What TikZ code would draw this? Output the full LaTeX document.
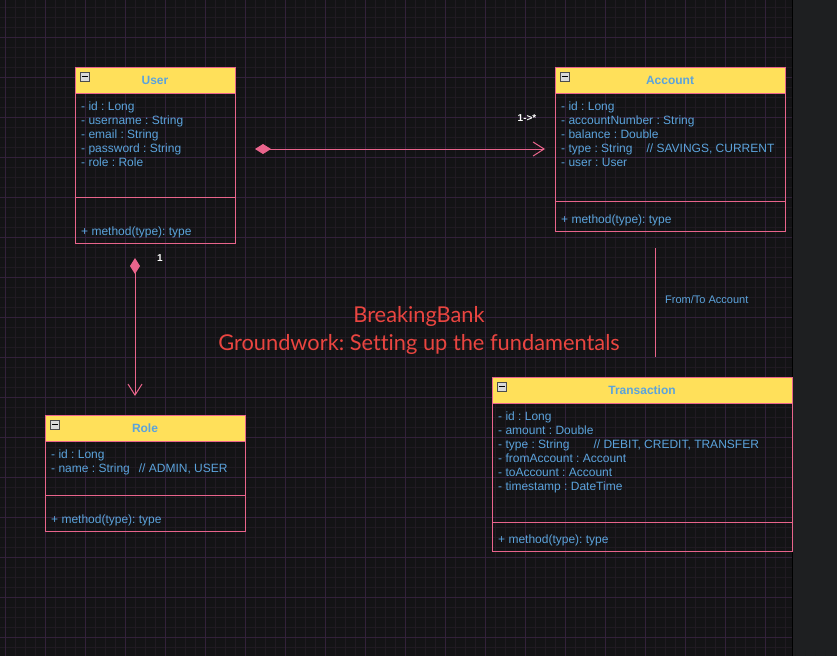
\documentclass[tikz,border=0pt]{standalone}
\usepackage{fontspec}
\setmainfont{Liberation Sans}
\newfontfamily\titlefont[Ligatures=NoCommon]{Lato}
\usepackage{tikz}
\usetikzlibrary{positioning,calc,arrows.meta}
\definecolor{bgdark}{HTML}{131315}
\definecolor{gridminor}{HTML}{201A22}
\definecolor{gridmajor}{HTML}{33213A}
\definecolor{sidebar}{HTML}{1E1F21}
\definecolor{umlpink}{HTML}{E9648C}
\definecolor{umlyellow}{HTML}{FFE05A}
\definecolor{umlblue}{HTML}{5BA3DC}
\definecolor{titlered}{HTML}{EA4540}
\frenchspacing

\begin{document}
\begin{tikzpicture}[x=1pt,y=-1pt,font=\fontsize{12}{14}\selectfont,
 hdr/.style={draw=umlpink,line width=1pt,outer sep=0pt,fill=umlyellow,minimum height=26pt,inner sep=0pt,text=umlblue,font=\fontsize{12}{14}\selectfont\bfseries},
 comp/.style={draw=umlpink,line width=1pt,outer sep=0pt,inner sep=0pt},
 attrs/.style={anchor=north west,inner sep=0pt,align=left,text=umlblue},
 meth/.style={anchor=base west,inner sep=0pt,text=umlblue},
 tog/.style={anchor=north west,draw=gray!60!black,fill=gray!30,minimum size=9pt,inner sep=0pt,line width=0.6pt,
  path picture={\draw[black,line width=1pt] ([xshift=1.5pt]path picture bounding box.west) -- ([xshift=-1.5pt]path picture bounding box.east);}},
 link/.style={draw=umlpink,line width=1pt},
 mult/.style={text=white,inner sep=0pt,font=\fontsize{10}{12}\selectfont\bfseries},
 lbl/.style={text=umlblue,inner sep=0pt,font=\fontsize{11}{13}\selectfont}]
\useasboundingbox (0,0) rectangle (837,656);
\fill[bgdark] (0,0) rectangle (837,656);
% grid
\foreach \x in {5,15,...,785} \draw[gridminor] (\x,0) -- (\x,656);
\foreach \y in {7,17,...,647} \draw[gridminor] (0,\y) -- (792,\y);
\foreach \x in {5,45,...,765} \draw[gridmajor] (\x,0) -- (\x,656);
\foreach \y in {37,77,...,637} \draw[gridmajor] (0,\y) -- (792,\y);
\fill[sidebar] (792,0) rectangle (837,656);
\draw[black,line width=1.5pt] (792.5,0) -- (792.5,656);

% User
\node[hdr,minimum width=160pt] (user) at (155,80) {User};
\node[comp,minimum width=160pt,minimum height=104pt,below=0pt of user] (userattr) {};
\node[comp,minimum width=160pt,minimum height=46pt,below=0pt of userattr] (usermeth) {};
\node[tog] (usertog) at ([shift={(5,5)}]user.north west) {};
\node[attrs] (userlist) at ([shift={(6,9)}]userattr.north west)
 {- id : Long\\- username : String\\- email : String\\- password : String\\- role : Role};
\node[meth] (userops) at ([shift={(6,-8)}]usermeth.south west) {+ method(type): type};

% Account
\node[hdr,minimum width=230pt] (account) at (670,80) {Account};
\node[comp,minimum width=230pt,minimum height=108pt,below=0pt of account] (accountattr) {};
\node[comp,minimum width=230pt,minimum height=30pt,below=0pt of accountattr] (accountmeth) {};
\node[tog] (accounttog) at ([shift={(5,5)}]account.north west) {};
\node[attrs] (accountlist) at ([shift={(6,9)}]accountattr.north west)
 {- id : Long\\- accountNumber : String\\- balance : Double\\- type : String\hspace{14pt}// SAVINGS, CURRENT\\- user : User};
\node[meth] (accountops) at ([shift={(6,-8)}]accountmeth.south west) {+ method(type): type};

% Role
\node[hdr,minimum width=200pt] (role) at (145,428) {Role};
\node[comp,minimum width=200pt,minimum height=54pt,below=0pt of role] (roleattr) {};
\node[comp,minimum width=200pt,minimum height=36pt,below=0pt of roleattr] (rolemeth) {};
\node[tog] (roletog) at ([shift={(5,5)}]role.north west) {};
\node[attrs] (rolelist) at ([shift={(6,9)}]roleattr.north west)
 {- id : Long\\- name : String\hspace{9pt}// ADMIN, USER};
\node[meth] (roleops) at ([shift={(6,-8)}]rolemeth.south west) {+ method(type): type};

% Transaction
\node[hdr,minimum width=300pt] (trans) at (642,390) {Transaction};
\node[comp,minimum width=300pt,minimum height=119pt,below=0pt of trans] (transattr) {};
\node[comp,minimum width=300pt,minimum height=29pt,below=0pt of transattr] (transmeth) {};
\node[tog] (transtog) at ([shift={(5,5)}]trans.north west) {};
\node[attrs] (translist) at ([shift={(6,9)}]transattr.north west)
 {- id : Long\\- amount : Double\\- type : String\hspace{24pt}// DEBIT, CREDIT, TRANSFER\\- fromAccount : Account\\- toAccount : Account\\- timestamp : DateTime};
\node[meth] (transops) at ([shift={(6,-8)}]transmeth.south west) {+ method(type): type};

% links
\draw[link,{Diamond[length=16pt,width=10pt,fill=umlpink]}-{Straight Barb[length=11pt,width=14pt]},shorten <=20pt,shorten >=10pt]
 ([yshift=-4pt]userattr.east) -- ([yshift=-4pt]userattr.east -| accountattr.west);
\node[mult] (many) at (527,118) {1->*};
\draw[link,{Diamond[length=16pt,width=10pt,fill=umlpink]}-{Straight Barb[length=11pt,width=14pt]},shorten <=15pt,shorten >=19pt]
 ([xshift=-20pt]usermeth.south) -- ([xshift=-20pt]usermeth.south |- role.north);
\node[mult] (one) at (160,258) {1};
\draw[link,shorten <=17pt,shorten >=20pt]
 ([xshift=-15pt]accountmeth.south) -- ([xshift=-15pt]accountmeth.south |- trans.north);
\node[lbl,anchor=west] (fromto) at (665,300) {From/To Account};

\node[text=titlered,align=center,font=\titlefont\fontsize{21.8}{28}\selectfont] (title) at (419,330)
 {BreakingBank\\Groundwork: Setting up the fundamentals};
\end{tikzpicture}
\end{document}
